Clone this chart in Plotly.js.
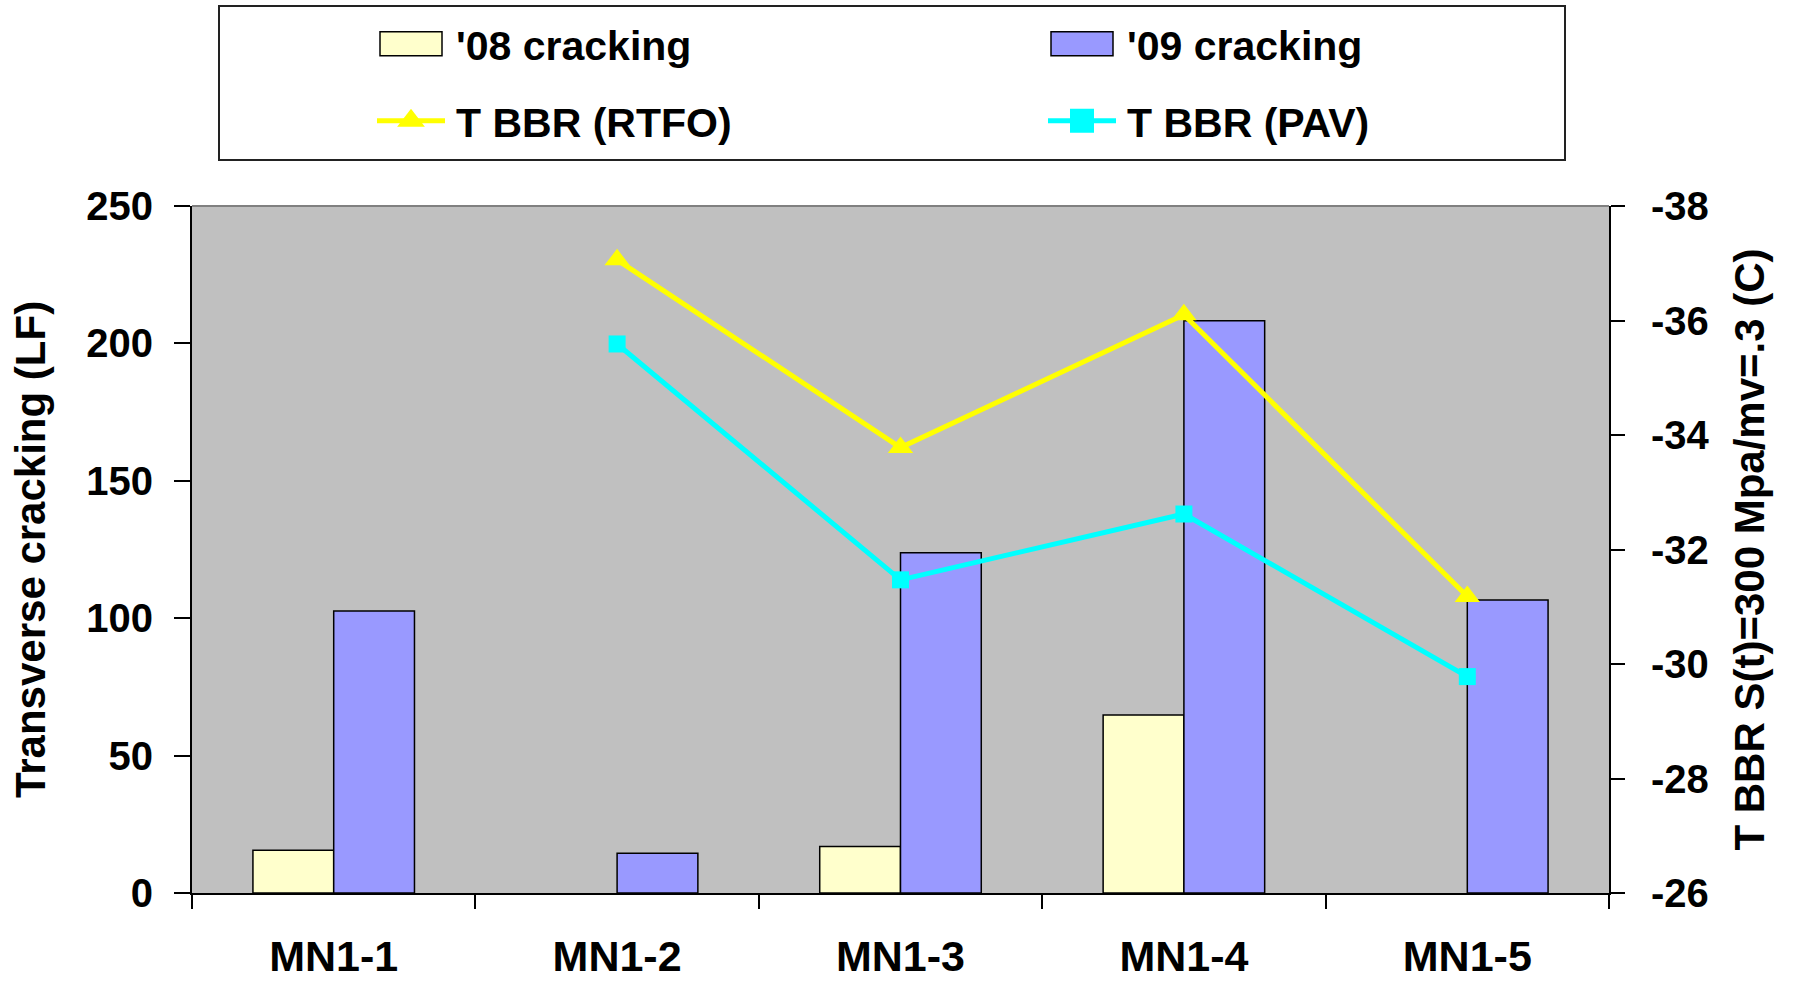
<!DOCTYPE html>
<html>
<head>
<meta charset="utf-8">
<script src="https://cdn.plot.ly/plotly-3.0.1.min.js"></script>
<style>html,body{margin:0;padding:0;background:#fff;}#chart{width:1796px;height:987px;}</style>
</head>
<body>
<div id="chart"></div>
<script>
const categories = ['MN1-1', 'MN1-2', 'MN1-3', 'MN1-4', 'MN1-5'];
const cracking08 = [15.6, null, 16.9, 64.8, null];
const cracking09 = [102.6, 14.5, 123.8, 208.2, 106.6];
const tbbrRTFO = [null, -37.06, -33.78, -36.1, -31.18];
const tbbrPAV = [null, -35.59, -31.47, -32.62, -29.78];
const leftTicks = [0, 50, 100, 150, 200, 250];
const rightTicks = [-26, -28, -30, -32, -34, -36, -38];
const rightTickText = ['-26', '-28', '-30', '-32', '-34', '-36', '-38'];

const FONT = 'Liberation Sans, Arial, sans-serif';
const bold = (size) => ({family: FONT, size: size, color: '#000', weight: 700});

const W = 1796, H = 987;
const L = 192, R = 1609, T = 206, B = 893;
const px2paperX = (px) => (px - L) / (R - L);
const px2paperY = (py) => (B - py) / (B - T);

const traces = [
  {type: 'bar', name: "'08 cracking", x: categories, y: cracking08, yaxis: 'y',
   marker: {color: '#FFFFCC', line: {color: '#000', width: 1.5}}, legend: 'legend'},
  {type: 'bar', name: "'09 cracking", x: categories, y: cracking09, yaxis: 'y',
   marker: {color: '#9999FF', line: {color: '#000', width: 1.5}}, legend: 'legend'},
  {type: 'scatter', mode: 'lines+markers', name: 'T BBR (RTFO)', x: categories, y: tbbrRTFO, yaxis: 'y2',
   line: {color: '#FFFF00', width: 5}, marker: {symbol: 'triangle-up', size: 22, color: '#FFFF00'}, legend: 'legend2'},
  {type: 'scatter', mode: 'lines+markers', name: 'T BBR (PAV)', x: categories, y: tbbrPAV, yaxis: 'y2',
   line: {color: '#00FFFF', width: 5}, marker: {symbol: 'square', size: 17, color: '#00FFFF'}, legend: 'legend2'}
];

const legendCommon = {
  orientation: 'h', xref: 'container', yref: 'container', xanchor: 'left', yanchor: 'middle',
  font: bold(41), bgcolor: 'rgba(0,0,0,0)', borderwidth: 0, entrywidthmode: 'pixels', entrywidth: 576,
  itemwidth: 80, traceorder: 'normal'
};

const layout = {
  width: W, height: H,
  margin: {l: L, r: W - R, t: T, b: H - B, pad: 0},
  paper_bgcolor: '#FFFFFF', plot_bgcolor: '#C0C0C0',
  barmode: 'group', bargap: 0.43, bargroupgap: 0,
  showlegend: true,
  legend: Object.assign({}, legendCommon, {x: 366 / W, y: 1 - 44 / H}),
  legend2: Object.assign({}, legendCommon, {x: 366 / W, y: 1 - 121 / H}),
  xaxis: {
    type: 'category', showline: true, linecolor: '#000', linewidth: 2, mirror: false,
    ticks: 'outside', tickson: 'boundaries', ticklen: 14, tickwidth: 2, tickcolor: '#000',
    tickfont: bold(43), showgrid: false, zeroline: false, automargin: false, ticklabelstandoff: 24
  },
  yaxis: {
    range: [0, 250], tickvals: leftTicks, showline: true, linecolor: '#000', linewidth: 2,
    ticks: 'outside', ticklen: 16, tickwidth: 2, tickcolor: '#000', tickfont: bold(40),
    showgrid: false, zeroline: false, automargin: false, ticklabelstandoff: 13,
    title: {text: 'Transverse cracking (LF)', font: bold(42), standoff: 28}
  },
  yaxis2: {
    overlaying: 'y', side: 'right', range: [-26, -38], tickvals: rightTicks, ticktext: rightTickText,
    showline: true, linecolor: '#000', linewidth: 2,
    ticks: 'outside', ticklen: 14, tickwidth: 2, tickcolor: '#000', tickfont: bold(40),
    showgrid: false, zeroline: false, automargin: false, ticklabelstandoff: 18,
    title: {text: 'T BBR S(t)=300 Mpa/mv=.3 (C)', font: bold(42), standoff: 26}
  },
  shapes: [
    {type: 'rect', xref: 'paper', yref: 'paper', x0: px2paperX(219), x1: px2paperX(1565),
     y0: px2paperY(160), y1: px2paperY(6), line: {color: '#222', width: 2}, fillcolor: 'rgba(0,0,0,0)'},
    {type: 'line', xref: 'paper', yref: 'paper', x0: 0, x1: 1, y0: 1, y1: 1,
     line: {color: '#808080', width: 2}}
  ]
};

const gd = document.getElementById('chart');
function fixLegend() {
  gd.querySelectorAll('g.legendpoints path').forEach(p => {
    const d = p.getAttribute('d') || '';
    if (/^M6,6H-6V-6H6Z$/.test(d)) p.setAttribute('d', 'M31,12H-31V-12H31Z');
  });
  gd.querySelectorAll('g.legendpoints path.scatterpts').forEach(p => {
    if (p.dataset.scaled) return;
    const t = p.getAttribute('transform') || '';
    p.setAttribute('transform', t + ' scale(1.5)');
    p.dataset.scaled = '1';
  });
  gd.querySelectorAll('g.legendlines path').forEach(p => {
    const d = p.getAttribute('d') || '';
    const m = d.match(/^M([-\d.]+),0h([-\d.]+)$/);
    if (m && parseFloat(m[2]) !== 68) {
      const cx = parseFloat(m[1]) + parseFloat(m[2]) / 2;
      p.setAttribute('d', 'M' + (cx - 34) + ',0h68');
    }
  });
}
Plotly.newPlot(gd, traces, layout, {displayModeBar: false, staticPlot: true}).then(() => {
  fixLegend();
  if (gd.on) gd.on('plotly_afterplot', fixLegend);
});
</script>
</body>
</html>
